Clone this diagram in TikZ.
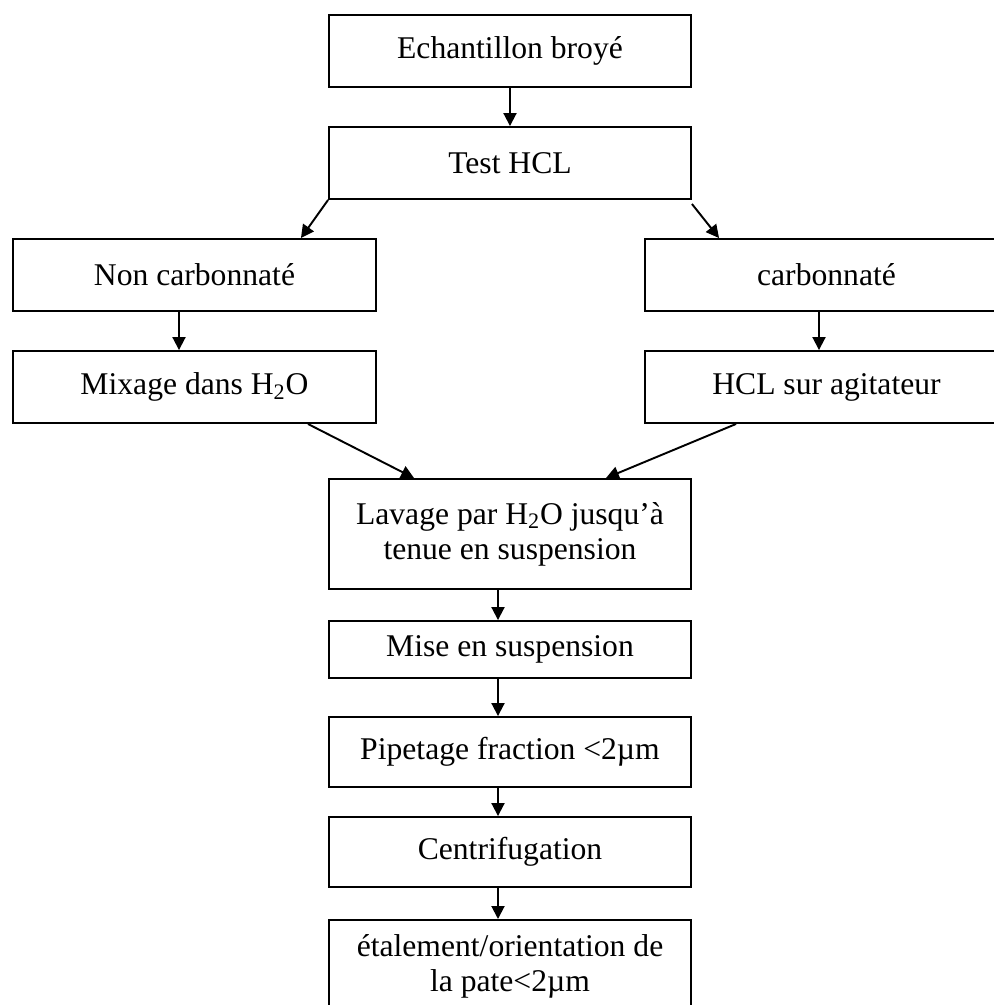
\documentclass[tikz,border=0pt]{standalone}
\usepackage{fontspec}
\setmainfont{Liberation Serif}
\usetikzlibrary{arrows.meta,positioning,calc}
\tikzset{
  procbox/.style={draw, line width=1.1pt, minimum width=7.24cm, minimum height=1.44cm,
    align=center, inner sep=0pt, font=\fontsize{18}{20}\selectfont},
  sidebox/.style={procbox, minimum width=7.26cm},
  flowarr/.style={-{Triangle[length=0.26cm,width=0.26cm]}, line width=1.1pt},
}

\begin{document}
\begin{tikzpicture}[x=0.02cm, y=-0.02cm]
  \useasboundingbox (0,0) rectangle (994,1005);
  \clip (0,0) rectangle (994,1005);
  % top of the chart
  \node[procbox] (ech) at (510,51) {Echantillon broyé};
  \node[procbox] (test) at (510,163) {Test HCL};
  % the two branches
  \node[sidebox] (noncarb) at (194.5,275) {Non carbonnaté};
  \node[sidebox] (carb) at (826.5,275) {carbonnaté};
  \node[sidebox] (mix) at (194.5,387) {Mixage dans H\textsubscript{2}O};
  \node[sidebox] (hcl) at (826.5,387) {HCL sur agitateur};
  % common steps
  \node[procbox, minimum height=2.2cm] (lav) at (510,534)
    {Lavage par H\textsubscript{2}O jusqu’à\\tenue en suspension};
  \node[procbox, minimum height=1.14cm] (mise) at (510,649.5) {Mise en suspension};
  \node[procbox, minimum height=1.4cm] (pip) at (510,752) {Pipetage fraction <2µm};
  \node[procbox, minimum height=1.4cm] (centri) at (510,852) {Centrifugation};
  \node[procbox, minimum height=2.4cm, anchor=north] (etal) at (510,919) {};
  \node[align=center, anchor=north, font=\fontsize{18}{20}\selectfont]
    (etaltext) at ([yshift=-0.18cm]etal.north) {étalement/orientation de\\la pate<2µm};

  \draw[flowarr] (ech) -- (test);
  \draw[flowarr] (test.south west) -- ([xshift=-1.52cm]noncarb.north east);
  \draw[flowarr] ([yshift=-0.08cm]test.south east) -- ([xshift=1.5cm]carb.north west);
  \draw[flowarr] ([xshift=-0.31cm]noncarb.south) -- ([xshift=-0.31cm]mix.north);
  \draw[flowarr] ([xshift=-0.15cm]carb.south) -- ([xshift=-0.15cm]hcl.north);
  \draw[flowarr] ([xshift=-1.38cm]mix.south east) -- ([xshift=1.72cm]lav.north west);
  \draw[flowarr] ([xshift=1.84cm]hcl.south west) -- ([xshift=-1.72cm]lav.north east);
  \draw[flowarr] ([xshift=-0.24cm]lav.south) -- ([xshift=-0.24cm]mise.north);
  \draw[flowarr] ([xshift=-0.24cm]mise.south) -- ([xshift=-0.24cm]pip.north);
  \draw[flowarr] ([xshift=-0.24cm]pip.south) -- ([xshift=-0.24cm]centri.north);
  \draw[flowarr] ([xshift=-0.24cm]centri.south) -- ([xshift=-0.24cm]etal.north);
\end{tikzpicture}
\end{document}
